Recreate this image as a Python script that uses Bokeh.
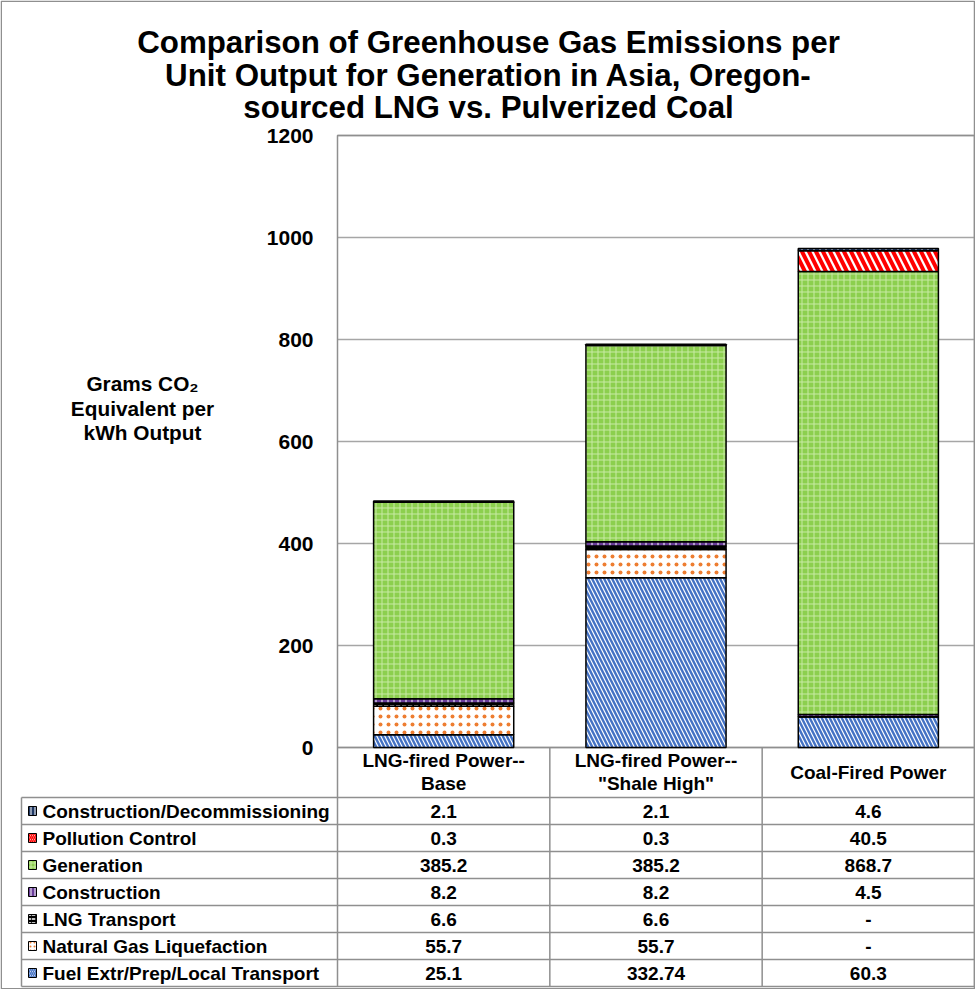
import numpy as np
from bokeh.plotting import figure
from bokeh.models import Range1d, FixedTicker, LinearAxis
from bokeh.embed import file_html
from bokeh.resources import INLINE
from bokeh.core.properties import value

# ---------------- data ----------------
categories = ['LNG-fired Power--Base', 'LNG-fired Power--"Shale High"', 'Coal-Fired Power']
category_lines = [["LNG-fired Power--", "Base"], ["LNG-fired Power--", '"Shale High"'], ["Coal-Fired Power"]]

series_names = [
    "Fuel Extr/Prep/Local Transport",
    "Natural Gas Liquefaction",
    "LNG Transport",
    "Construction",
    "Generation",
    "Pollution Control",
    "Construction/Decommissioning",
]
fuel_extr = [25.1, 332.74, 60.3]
liquefaction = [55.7, 55.7, None]
lng_transport = [6.6, 6.6, None]
construction = [8.2, 8.2, 4.5]
generation = [385.2, 385.2, 868.7]
pollution_control = [0.3, 0.3, 40.5]
construction_decom = [2.1, 2.1, 4.6]
series_values = [fuel_extr, liquefaction, lng_transport, construction,
                 generation, pollution_control, construction_decom]

y_ticks = [0, 200, 400, 600, 800, 1000, 1200]
title_lines = ["Comparison of Greenhouse Gas Emissions per",
               "Unit Output for Generation in Asia, Oregon-",
               "sourced LNG vs. Pulverized Coal"]
y_label_lines = ["Grams CO\u2082", "Equivalent per", "kWh Output"]

# ---------------- styles ----------------
styles = [
    dict(fill_color="white", hatch_pattern="\\", hatch_color="#4472c4", hatch_scale=8, hatch_weight=2.4),
    dict(fill_color="white", hatch_pattern=".", hatch_color="#ed7d31", hatch_scale=8, hatch_weight=1.1),
    dict(fill_color="black", hatch_pattern='"', hatch_color="white", hatch_scale=6, hatch_weight=1.5),
    dict(fill_color="#6a3d9a", hatch_pattern="|", hatch_color="white", hatch_scale=6, hatch_weight=1),
    dict(fill_color="#8ccf4e", hatch_pattern="+", hatch_color="#c8eaa4", hatch_scale=6, hatch_weight=1),
    dict(fill_color="white", hatch_pattern="\\", hatch_color="#ff0000", hatch_scale=14, hatch_weight=4),
    dict(fill_color="#1f3864", hatch_pattern="|", hatch_color="white", hatch_scale=6, hatch_weight=1),
]
FONT = "Liberation Sans"
GRID = "#a6a6a6"
TABLE = "#8f8f8f"

W, H = 975, 989
CH_L, CH_R, CH_T, CH_B = 337, 974, 135, 747     # chart area in canvas pixels
CAT_W = (CH_R - CH_L) / 3.0
VMAX = 1200.0


def fx(px):
    return (px - CH_L) / CAT_W


def fv(py):
    return (CH_B - py) * VMAX / (CH_B - CH_T)


p = figure(width=W, height=H, title=None,
           x_range=Range1d(fx(0), fx(W)), y_range=Range1d(fv(H), fv(0)),
           output_backend="svg", toolbar_location=None,
           x_axis_location=None, y_axis_location=None, min_border=0)
p.extra_y_ranges = {"px": Range1d(H, 0)}
for g in p.grid:
    g.visible = False
p.outline_line_color = None
p.background_fill_color = "white"
p.border_fill_color = "white"

# y axis drawn at the left edge of the chart area
ax = LinearAxis(ticker=FixedTicker(ticks=y_ticks), fixed_location=fx(CH_L))
ax.axis_line_color = None
ax.major_tick_line_color = None
ax.minor_tick_line_color = None
ax.major_tick_out = 0
ax.major_tick_in = 0
ax.major_label_standoff = 24
ax.major_label_text_font = FONT
ax.major_label_text_font_style = "bold"
ax.major_label_text_font_size = "21px"
ax.major_label_text_color = "black"
p.add_layout(ax, "left")

ncat = len(categories)
xc = [i + 0.5 for i in range(ncat)]

# outer border of the picture
p.quad(left=[fx(0.75)], right=[fx(CH_R)], top=[0.75], bottom=[H - 0.75], fill_color=None,
       line_color=TABLE, line_width=1.5, y_range_name="px")

# gridlines and chart border
p.segment(x0=[0] * len(y_ticks), x1=[ncat] * len(y_ticks), y0=y_ticks, y1=y_ticks,
          line_color=GRID, line_width=1.3)
p.quad(left=[0], right=[ncat], bottom=[0], top=[y_ticks[-1]], fill_color=None,
       line_color=TABLE, line_width=1.5)

# stacked bars
bottoms = np.zeros(ncat)
for name, vals, st in zip(series_names, series_values, styles):
    v = np.array([0.0 if x is None else float(x) for x in vals])
    p.vbar(x=xc, bottom=bottoms.copy(), top=bottoms + v, width=0.66,
           line_color="black", line_width=1.5, **st)
    bottoms = bottoms + v

txt = dict(text_font=value(FONT), text_font_style="bold", text_color="black",
           text_baseline="middle", y_range_name="px")

# title
p.text(x=[fx(488)] * 3, y=[42, 75, 107], text=title_lines, text_align="center",
       text_font_size="31.3px", **txt)
# y label
p.text(x=[fx(142)] * 3, y=[383, 408, 432], text=y_label_lines, text_align="center",
       text_font_size="20.8px", **txt)

# ---------------- data table ----------------
T_TOP = CH_B
HEADER_H = 50
n_rows = len(series_names)
ROW_H = 27
LEG_L = 21
T_BOT = T_TOP + HEADER_H + n_rows * ROW_H

xs_v = [CH_L, CH_L + CAT_W, CH_L + 2 * CAT_W, CH_R]
p.segment(x0=[fx(x) for x in xs_v], y0=[T_TOP] * 4, x1=[fx(x) for x in xs_v],
          y1=[T_BOT] * 4, line_color=TABLE, line_width=1.5, y_range_name="px")
p.segment(x0=[fx(LEG_L)], y0=[T_TOP + HEADER_H], x1=[fx(LEG_L)], y1=[T_BOT],
          line_color=TABLE, line_width=1.5, y_range_name="px")
ys_h = [T_TOP + HEADER_H + k * ROW_H for k in range(n_rows + 1)]
p.segment(x0=[fx(LEG_L)] * len(ys_h), y0=ys_h, x1=[fx(CH_R)] * len(ys_h), y1=ys_h,
          line_color=TABLE, line_width=1.5, y_range_name="px")

# header
hx, hy, ht = [], [], []
for i, lines in enumerate(category_lines):
    ys = [T_TOP + 13, T_TOP + 36] if len(lines) == 2 else [T_TOP + 25]
    for l, yy in zip(lines, ys):
        hx.append(i + 0.5)
        hy.append(yy)
        ht.append(l)
p.text(x=hx, y=hy, text=ht, text_align="center", text_font_size="19px", **txt)

# rows: top row = top of the stack
for r in range(n_rows):
    s = n_rows - 1 - r
    yc = T_TOP + HEADER_H + (r + 0.5) * ROW_H
    icon = dict(styles[s])
    icon["hatch_scale"] = min(icon["hatch_scale"], 4)
    icon["hatch_weight"] = min(icon["hatch_weight"], 1.5)
    p.rect(x=[fx(32)], y=[yc], width=8, height=9, width_units="screen",
           height_units="screen", line_color="black", line_width=1,
           y_range_name="px", **icon)
    p.text(x=[fx(42)], y=[yc], text=[series_names[s]], text_align="left",
           text_font_size="19px", **txt)
    vals = series_values[s]
    labels = ["-" if v is None else f"{v:g}" for v in vals]
    p.text(x=xc, y=[yc] * ncat, text=labels, text_align="center",
           text_font_size="19px", **txt)

open("out.html", "w").write(file_html(p, INLINE))
